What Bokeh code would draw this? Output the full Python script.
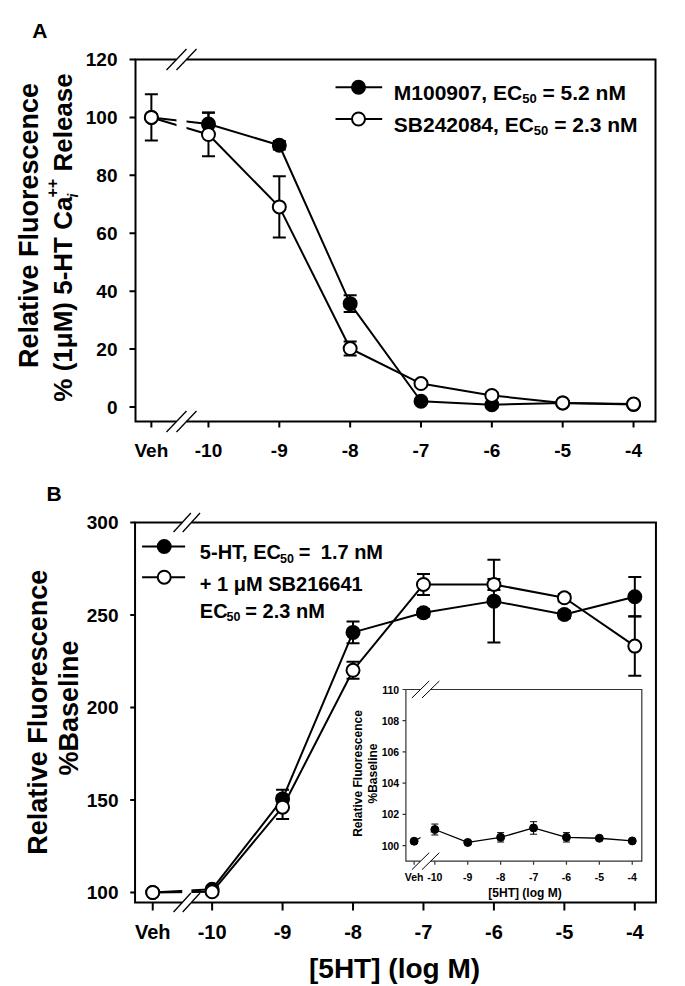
import math
from bokeh.plotting import figure
from bokeh.models import Range1d, FixedTicker
from bokeh.layouts import column
from bokeh.embed import file_html
from bokeh.resources import INLINE
from bokeh.core.properties import value

FONT = "Liberation Sans"

# ---------------- data ----------------
tick_labels = ["Veh", "-10", "-9", "-8", "-7", "-6", "-5", "-4"]
log_doses = [-10, -9, -8, -7, -6, -5, -4]

# Panel A
a_veh_x = -10.806
m100907_mean = [100.0, 97.7, 90.4, 35.7, 2.0, 0.8, 1.4, 0.9]
m100907_sem = [0.0, 4.0, 1.5, 2.9, 0.5, 0.5, 0.5, 0.5]
sb242084_mean = [100.0, 94.1, 69.1, 20.2, 8.1, 4.0, 1.4, 1.0]
sb242084_sem = [8.0, 7.5, 10.6, 2.4, 1.0, 1.0, 0.5, 0.5]
a_yticks = [0, 20, 40, 60, 80, 100, 120]

# Panel B
b_veh_x = -10.843
ht_mean = [100.0, 101.8, 150.6, 240.6, 251.2, 257.5, 250.3, 259.9]
ht_sem = [0.0, 1.0, 5.0, 5.9, 2.0, 22.3, 2.0, 10.6]
sb216641_mean = [100.0, 100.4, 146.1, 220.1, 266.5, 266.5, 259.3, 233.2]
sb216641_sem = [0.0, 1.0, 6.4, 4.6, 5.7, 3.0, 2.0, 16.0]
b_yticks = [100, 150, 200, 250, 300]

# Inset
i_veh_x = -10.63
inset_mean = [100.28, 101.03, 100.2, 100.53, 101.13, 100.53, 100.47, 100.3]
inset_sem = [0.0, 0.35, 0.1, 0.3, 0.4, 0.3, 0.1, 0.1]
inset_yticks = [100, 102, 104, 106, 108, 110]

# ---------------- helpers ----------------
AW = {' ': 278, '%': 889, '(': 333, ')': 333, '+': 584, ',': 278, '-': 333, '.': 278,
      '=': 584, '[': 333, ']': 333, 'A': 722, 'B': 722, 'C': 722, 'E': 667, 'F': 611,
      'H': 722, 'M': 833, 'R': 722, 'S': 667, 'T': 611, 'a': 556, 'c': 556, 'e': 556,
      'g': 611, 'i': 278, 'l': 278, 'n': 611, 'o': 611, 'r': 389, 's': 556, 't': 333,
      'u': 611, 'v': 556, 'μ': 576}


def tw(s, size):
    return sum(AW.get(c, 556) for c in s) / 1000.0 * size


W = 685
PAD = 12  # the drawn frame lies PAD px inside bokeh's plotting area


def make_fig(xr, yr, height, left, top, fw, fh, page_x0, page_y0):
    ux = (xr[1] - xr[0]) / fw
    uy = (yr[1] - yr[0]) / fh
    xr_real = (xr[0] - PAD * ux, xr[1] + PAD * ux)
    yr_real = (yr[0] - PAD * uy, yr[1] + PAD * uy)
    L, T = left - PAD, top - PAD
    FW, FH = fw + 2 * PAD, fh + 2 * PAD
    p = figure(width=W, height=height, x_range=Range1d(*xr_real), y_range=Range1d(*yr_real),
               output_backend="svg", toolbar_location=None,
               min_border_left=L, min_border_top=T,
               min_border_right=max(W - L - FW, 0), min_border_bottom=height - T - FH)
    p.outline_line_color = None
    p.grid.visible = False
    p.background_fill_color = "white"
    p.border_fill_color = "white"

    def fx(px):
        return xr[0] + (px - page_x0 - left) * ux

    def fy(py):
        return yr[1] - (py - page_y0 - top) * uy
    return p, fx, fy, ux, uy


def style_axes(p, xr, yr, ux, uy, xticks, yticks, xfont, yfont, xout, yout, xstand, ystand):
    p.xaxis.ticker = FixedTicker(ticks=xticks)
    p.xaxis.major_label_overrides = dict(zip(xticks, tick_labels))
    p.yaxis.ticker = FixedTicker(ticks=yticks)
    p.yaxis.major_label_overrides = {t: str(t) for t in yticks}
    for ax, fs, out, st in ((p.xaxis, xfont, xout, xstand), (p.yaxis, yfont, yout, ystand)):
        ax.axis_line_color = None
        ax.major_tick_line_color = None
        ax.major_tick_out = 0
        ax.major_tick_in = 0
        ax.minor_tick_line_color = None
        ax.major_label_text_font = FONT
        ax.major_label_text_font_size = f"{fs}px"
        ax.major_label_text_font_style = "bold"
        ax.major_label_text_color = "black"
        ax.major_label_standoff = max(out + st - PAD, 0)
    # tick marks drawn from the drawn frame outward
    p.segment(x0=xticks, y0=[yr[0]] * len(xticks), x1=xticks,
              y1=[yr[0] - xout * uy] * len(xticks), line_color="black", line_width=2)
    p.segment(x0=[xr[0]] * len(yticks), y0=yticks, x1=[xr[0] - yout * ux] * len(yticks),
              y1=yticks, line_color="black", line_width=2)


def add_frame(g, xr, yr, gap, lw=2, color="black", level="glyph"):
    x0, x1 = xr
    y0, y1 = yr
    gl, gr = gap
    g.multi_line(xs=[[gl, x0, x0, gl], [gr, x1, x1, gr]],
                 ys=[[y0, y0, y1, y1], [y1, y1, y0, y0]],
                 line_color=color, line_width=lw, level=level, line_join="miter")


def add_slashes(g, fx, fy, points, dx, dy, lw):
    xs0, ys0, xs1, ys1 = [], [], [], []
    for cx, cy in points:
        xs0.append(fx(cx - dx)); ys0.append(fy(cy + dy))
        xs1.append(fx(cx + dx)); ys1.append(fy(cy - dy))
    g.segment(x0=xs0, y0=ys0, x1=xs1, y1=ys1, line_color="black", line_width=lw, level="overlay")


def draw_errs(g, xs, mean, sem, cap, lw):
    ex = [x for x, s in zip(xs, sem) if s > 0]
    lo = [m - s for m, s in zip(mean, sem) if s > 0]
    hi = [m + s for m, s in zip(mean, sem) if s > 0]
    g.segment(x0=ex, y0=lo, x1=ex, y1=hi, line_color="black", line_width=lw)
    g.scatter(x=ex + ex, y=lo + hi, marker="dash", size=cap, line_color="black", line_width=lw)


def draw_markers(g, xs, mean, filled, size, lw):
    g.scatter(x=xs, y=mean, marker="circle", size=size,
              fill_color="black" if filled else "white", line_color="black", line_width=lw)


def _split(t, size):
    n = len(t) - len(t.lstrip(" "))
    return t.strip(" "), tw(" " * n, size)


def htext(p, fx, fy, px, py, pieces, level="overlay"):
    x = px
    for piece in pieces:
        t, size, dy, style = piece[:4]
        adv = piece[4] if len(piece) > 4 else None
        s, lead = _split(t, size)
        p.text(x=[fx(x + lead)], y=[fy(py + dy)], text=[s], text_font=value(FONT),
               text_font_size=f"{size}px", text_font_style=style, text_color="black",
               text_align="left", text_baseline="alphabetic", level=level)
        x += tw(t, size) if adv is None else adv


def vtext(p, fx, fy, pxb, py_start, pieces, level="overlay"):
    y = py_start
    for piece in pieces:
        t, size, dx, style = piece[:4]
        adv = piece[4] if len(piece) > 4 else None
        s, lead = _split(t, size)
        p.text(x=[fx(pxb + dx)], y=[fy(y - lead)], text=[s], angle=math.pi / 2,
               text_font=value(FONT), text_font_size=f"{size}px", text_font_style=style,
               text_color="black", text_align="left", text_baseline="alphabetic", level=level)
        y -= tw(t, size) if adv is None else adv


def ctext(p, x, y, t, size, angle=0.0, level="overlay", align="center"):
    p.text(x=[x], y=[y], text=[t], angle=angle, text_font=value(FONT),
           text_font_size=f"{size}px", text_font_style="bold", text_color="black",
           text_align=align, text_baseline="alphabetic", level=level)


# ================= Panel A =================
axr = (-11.03, -3.69)
ayr = (-5.0, 120.0)
pA, fxA, fyA, uxA, uyA = make_fig(axr, ayr, 470, 135, 59, 520, 362, 0, 0)
a_x = [a_veh_x] + log_doses

pA.line(a_x, m100907_mean, line_color="black", line_width=2)
pA.line(a_x, sb242084_mean, line_color="black", line_width=2)
gapA = (fxA(176), fxA(186))
pA.quad(left=[gapA[0]], right=[gapA[1]], bottom=[ayr[0]], top=[ayr[1]],
        fill_color="white", line_color=None)
draw_errs(pA, a_x, m100907_mean, m100907_sem, 13, 2)
draw_markers(pA, a_x, m100907_mean, True, 13, 2)
draw_errs(pA, a_x, sb242084_mean, sb242084_sem, 13, 2)
draw_markers(pA, a_x, sb242084_mean, False, 13, 2)

style_axes(pA, axr, ayr, uxA, uyA, a_x, a_yticks, 19, 19, 6, 6, 12, 12)
add_frame(pA, axr, ayr, gapA)
add_slashes(pA, fxA, fyA, [(176, 59), (186, 59), (176, 421), (186, 421)], 10, 10.5, 1.3)

# legend A
for ry, filled in ((86.7, True), (118.5, False)):
    pA.segment(x0=[fxA(335)], y0=[fyA(ry)], x1=[fxA(381.7)], y1=[fyA(ry)],
               line_color="black", line_width=2)
    pA.scatter(x=[fxA(358)], y=[fyA(ry)], marker="circle", size=13,
               fill_color="black" if filled else "white", line_color="black", line_width=2)
htext(pA, fxA, fyA, 393.3, 92.3, [("M100907, EC", 21, 0, "bold"), ("50", 13, 6, "bold"),
                                  (" = 5.2 nM", 21, 0, "bold")])
htext(pA, fxA, fyA, 393.3, 124.0, [("SB242084, EC", 21, 0, "bold"), ("50", 13, 6, "bold"),
                                   (" = 2.3 nM", 21, 0, "bold")])

# titles A
ctext(pA, fxA(31.7), fyA(30), "A", 21, align="left")
ctext(pA, fxA(28.5), fyA(225), "Relative Fluorescence", 27, angle=math.pi / 2)
line2 = [("% (1μM) 5-HT Ca", 26, 0, "bold"), ("i", 14, 10, "bold italic", 0),
         ("++", 16, -10.5, "bold"), (" Release", 26, 0, "bold")]
total2 = tw("% (1μM) 5-HT Ca", 26) + tw("++", 16) + tw(" Release", 26)
vtext(pA, fxA, fyA, 62, 237 + total2 / 2, line2)

# ================= Panel B =================
bxr = (-11.094, -3.70)
byr = (94.6, 300.0)
pB, fxB, fyB, uxB, uyB = make_fig(bxr, byr, 516, 132, 52, 541, 380, 0, 470)
b_x = [b_veh_x] + log_doses

pB.line(b_x, ht_mean, line_color="black", line_width=2)
pB.line(b_x, sb216641_mean, line_color="black", line_width=2)
gapB = (fxB(181), fxB(190.5))
pB.quad(left=[gapB[0]], right=[gapB[1]], bottom=[byr[0]], top=[byr[1]],
        fill_color="white", line_color=None)
draw_errs(pB, b_x, ht_mean, ht_sem, 13, 2)
draw_markers(pB, b_x, ht_mean, True, 13, 2)
draw_errs(pB, b_x, sb216641_mean, sb216641_sem, 13, 2)
draw_markers(pB, b_x, sb216641_mean, False, 13, 2)

style_axes(pB, bxr, byr, uxB, uyB, b_x, b_yticks, 20, 19, 8, 5, 10, 12)
add_frame(pB, bxr, byr, gapB)
add_slashes(pB, fxB, fyB, [(181, 522), (190.5, 522), (181, 902), (190.5, 902)], 9, 9.5, 1.3)

# legend B
for ry, filled in ((546, True), (576.7, False)):
    pB.segment(x0=[fxB(139.3)], y0=[fyB(ry)], x1=[fxB(184)], y1=[fyB(ry)],
               line_color="black", line_width=2)
    pB.scatter(x=[fxB(162.3)], y=[fyB(ry)], marker="circle", size=13,
               fill_color="black" if filled else "white", line_color="black", line_width=2)
htext(pB, fxB, fyB, 199.3, 551.7, [("5-HT, EC", 20, 0, "bold"), ("50", 12.5, 6, "bold"),
                                   (" =", 20, 0, "bold"), ("  1.7 nM", 20, 0, "bold")])
htext(pB, fxB, fyB, 199.3, 583.5, [("+ 1 μM SB216641", 20, 0, "bold")])
htext(pB, fxB, fyB, 199.3, 610.0, [("EC", 20, 0, "bold"), ("50", 12.5, 6, "bold"),
                                   (" = 2.3 nM", 20, 0, "bold")])

# titles B
ctext(pB, fxB(40), fyB(493.3), "B", 21, align="left")
ctext(pB, fxB(31.7), fyB(711.7), "Relative Fluorescence", 27, angle=math.pi / 2)
ctext(pB, fxB(63), fyB(707.5), "%Baseline", 27, angle=math.pi / 2)
ctext(pB, fxB(401.5), fyB(968), "[5HT] (log M)", 28)

# ================= Inset (inside panel B) =================
ixr = (-10.88, -3.71)
iyr = (99.0, 110.0)
IL, IR, IT, IB = 413.3, 658.3, 689.0, 860.7
ipx = (IR - IL) / (ixr[1] - ixr[0])
ipy = (IB - IT) / (iyr[1] - iyr[0])


def fix(px):
    return ixr[0] + (px - IL) / ipx


def fiy(py):
    return iyr[0] + (IB - py) / ipy


ins = pB.subplot(x_source=Range1d(*ixr), y_source=Range1d(*iyr),
                 x_target=Range1d(fxB(IL), fxB(IR)), y_target=Range1d(fyB(IB), fyB(IT)))
i_x = [i_veh_x] + log_doses
ins.line(i_x, inset_mean, line_color="black", line_width=1.3)
ins.quad(left=[fix(428.5)], right=[fix(439)], bottom=[iyr[0]], top=[iyr[1]],
         fill_color="white", line_color=None)
draw_errs(ins, i_x, inset_mean, inset_sem, 7, 1)
draw_markers(ins, i_x, inset_mean, True, 8, 1)
add_frame(ins, ixr, iyr, (fix(428.5), fix(439)), lw=1.2, color="#333333", level="overlay")
add_slashes(ins, fix, fiy, [(428.5, IT), (439, IT), (428.5, IB), (439, IB)], 9, 8.5, 1)

# inset ticks
ins.segment(x0=[ixr[0] - 3.5 / ipx] * len(inset_yticks), y0=inset_yticks,
            x1=[ixr[0]] * len(inset_yticks), y1=inset_yticks,
            line_color="#333333", line_width=1.2)
ins.segment(x0=i_x, y0=[iyr[0] - 3.5 / ipy] * len(i_x), x1=i_x, y1=[iyr[0]] * len(i_x),
            line_color="#333333", line_width=1.2)
ins.text(x=[ixr[0] - 7 / ipx] * len(inset_yticks), y=inset_yticks,
         text=[str(t) for t in inset_yticks], text_font=value(FONT), text_font_size="10.5px",
         text_font_style="bold", text_color="black", text_align="right", text_baseline="middle")
ins.text(x=i_x, y=[iyr[0] - 15.5 / ipy] * len(i_x), text=tick_labels,
         text_font=value(FONT), text_font_size="10.5px", text_font_style="bold",
         text_color="black", text_align="center", text_baseline="middle")
ctext(pB, fxB(537), fyB(892), "[5HT] (log M)", 12, level="glyph")
ctext(pB, fxB(364), fyB(773), "Relative Fluorescence", 12, angle=math.pi / 2, level="glyph")
ctext(pB, fxB(379.3), fyB(773), "%Baseline", 12, angle=math.pi / 2, level="glyph")

layout = column(pA, pB, spacing=0)
open("out.html", "w").write(file_html(layout, INLINE))
